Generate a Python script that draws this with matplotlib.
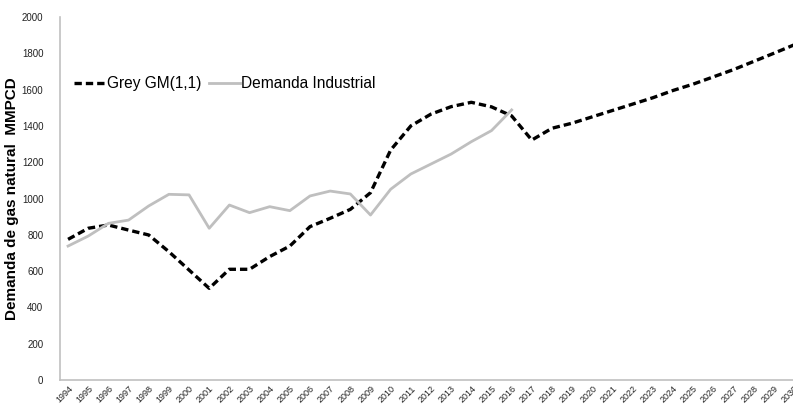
import matplotlib.pyplot as plt

plt.rcParams['font.family'] = ['Liberation Sans', 'DejaVu Sans']

years = [str(y) for y in range(1994, 2031)]

# Grey GM(1,1) model (1994-2030)
grey_gm = [775, 836, 854, 826, 799, 707, 606, 505, 610, 610,
           680, 738, 845, 891, 940, 1032, 1267, 1400, 1465, 1506,
           1530, 1505, 1455, 1322, 1387, 1415, 1450, 1485, 1520, 1555,
           1595, 1630, 1670, 1710, 1755, 1800, 1846]

# Demanda Industrial (1994-2016)
demanda = [738, 793, 863, 881, 959, 1023, 1020, 836, 964, 922,
           955, 933, 1014, 1041, 1025, 909, 1051, 1135, 1190, 1245,
           1313, 1374, 1488]

fig = plt.figure(figsize=(7.93, 4.11), dpi=100)
ax = fig.add_axes([60 / 793, 31 / 411, 744 / 793, 363 / 411])

x_all = list(range(len(years)))
ax.plot(x_all, grey_gm, color='black', linestyle=(0, (2.2, 1.2)), linewidth=2.4,
        label='Grey GM(1,1)')
ax.plot(x_all[:len(demanda)], demanda, color='#BFBFBF', linewidth=2,
        label='Demanda Industrial')

ax.set_xlim(-0.4, 36.5)
ax.set_ylim(0, 2000)
ax.set_yticks(range(0, 2001, 200))
ax.set_xticks(x_all)
ax.set_xticklabels(years, rotation=45, ha='right', rotation_mode='anchor',
                   fontsize=6.5, color='#222222')
ax.tick_params(axis='y', labelsize=7, length=0, pad=12, colors='#222222')
ax.tick_params(axis='x', length=0, pad=3)

for s in ['top', 'right']:
    ax.spines[s].set_visible(False)
for s in ['left', 'bottom']:
    ax.spines[s].set_color('#C0C0C0')
    ax.spines[s].set_linewidth(1.2)

ax.set_ylabel('Demanda de gas natural  MMPCD', fontsize=11, fontweight='bold')
ax.yaxis.set_label_coords(-0.055, 0.5)

ax.legend(loc='upper left', bbox_to_anchor=(0.0, 0.875), ncol=2, frameon=False,
          fontsize=11.2, handlelength=2.0, handletextpad=0.1, columnspacing=0.5)

fig.savefig('out.png', dpi=100)
